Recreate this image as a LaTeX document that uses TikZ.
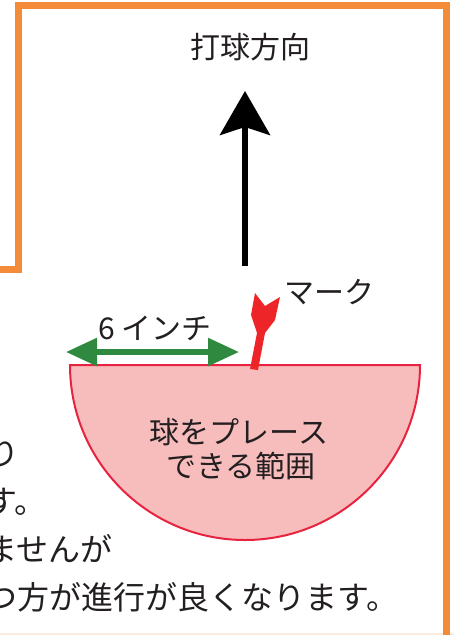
\documentclass[tikz,border=0pt]{standalone}
\usepackage{fontspec}
\newfontfamily\jpfont{Noto Sans CJK JP}
\usetikzlibrary{arrows.meta}
\definecolor{frameorange}{HTML}{F28C38}
\definecolor{zonepink}{HTML}{F7BDBD}
\definecolor{zonered}{HTML}{E8233F}
\definecolor{markred}{HTML}{EE2528}
\definecolor{widthgreen}{HTML}{2F8A3F}
\definecolor{inkgray}{HTML}{231F20}
\definecolor{stripbeige}{HTML}{FCECE0}

\begin{document}
\begin{tikzpicture}[x=1pt, y=-1pt,
    jplabel/.style={font=\jpfont\fontsize{30}{36}\selectfont, text=inkgray, inner sep=0pt},
    jpbody/.style={font=\jpfont\fontsize{32}{38}\selectfont, text=inkgray, inner sep=0pt, anchor=base east}]
    \useasboundingbox (0,0) rectangle (454,635);
    \clip (0,0) rectangle (454,635);

    % 下の帯と枠
    \fill[stripbeige] (0,633) rectangle (454,635);
    \draw[frameorange, line width=7pt] (0,269.5) -- (18.5,269.5) -- (18.5,5.5) -- (446,5.5) -- (446,640);

    % 打球方向
    \node[jplabel, anchor=base] (title) at (250,58) {打球方向};
    \coordinate (shaft) at (245,266);
    \coordinate (tip) at (245,91);
    \draw[line width=6pt, -{Stealth[length=44pt, width=50pt, inset=8pt]}] (shaft) -- (tip);

    % 球をプレースできる範囲
    \coordinate (zone) at (245,365);
    \filldraw[fill=zonepink, draw=zonered, line width=2pt] (70,365) arc[start angle=180, end angle=0, radius=175] -- cycle;
    \node[jplabel, anchor=base] (zone1) at (239,443) {球をプレース};
    \node[jplabel, anchor=base] (zone2) at (241,477) {できる範囲};

    % 6 インチ
    \coordinate (gl) at (66,352);
    \coordinate (gr) at (239,352);
    \draw[widthgreen, line width=5.5pt, {Triangle[length=31pt, width=27pt]}-{Triangle[length=31pt, width=27pt]}] (gl) -- (gr);
    \node[jplabel, anchor=base] (inch) at (155,339) {6 インチ};

    % マーク
    \fill[markred] (250,369) -- (257,333) -- (251,315) -- (255,293) -- (265,306) -- (280,297)
        -- (275,320) -- (265,333) -- (258,370) -- cycle;
    \node[jplabel, anchor=base] (mark) at (329,303) {マーク};

    % 本文
    \foreach \txt/\x/\y [count=\i] in {り/20/465, す。/47/513, ませんが/113/561, つ方が進行が良くなります。/399/609} {
        \node[jpbody] (body\i) at (\x,\y) {\txt};
    }
\end{tikzpicture}
\end{document}
